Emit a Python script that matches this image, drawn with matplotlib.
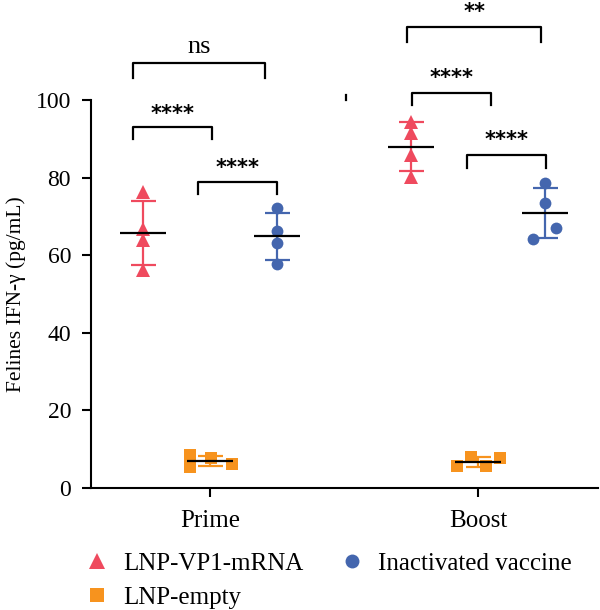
import numpy as np
import matplotlib.pyplot as plt
from matplotlib.lines import Line2D

# 数据 (pg/mL)
groups = ['Prime', 'Boost']
series = ['LNP-VP1-mRNA', 'LNP-empty', 'Inactivated vaccine']
prime_vp1 = [76.3, 66.7, 63.9, 56.2]
prime_empty = [8.5, 5.4, 7.7, 6.2]
prime_inact = [72.2, 66.3, 63.2, 57.7]
boost_vp1 = [94.3, 91.5, 85.8, 80.2]
boost_empty = [5.6, 7.9, 5.6, 7.7]
boost_inact = [78.6, 73.5, 67.0, 64.2]

# 显著性标记: (组, 序列1, 序列2, 标签)
sig_pairs = [
    ('Prime', 0, 2, 'ns'),
    ('Prime', 0, 1, '****'),
    ('Prime', 1, 2, '****'),
    ('Boost', 0, 2, '**'),
    ('Boost', 0, 1, '****'),
    ('Boost', 1, 2, '****'),
]

plt.rcParams['font.family'] = ['Liberation Serif', 'DejaVu Serif']

colors = ['#EF4A5E', '#F7931E', '#4466AE']
markers = ['^', 's', 'o']
msizes = [10, 9, 8.5]

fig = plt.figure(figsize=(6.0, 6.1), dpi=100)
ax = fig.add_axes([0.152, 0.2, 0.845, 0.636])

data = {
    'Prime': [prime_vp1, prime_empty, prime_inact],
    'Boost': [boost_vp1, boost_empty, boost_inact],
}
# 点的水平抖动
jitter = {
    'Prime': [[0, 0, 0, 0], [-0.075, -0.075, 0.004, 0.082], [0, 0, 0, 0]],
    'Boost': [[0, 0, 0, 0], [-0.078, -0.026, 0.03, 0.082], [0, 0, 0.04, -0.045]],
}
offsets = [-0.25, 0, 0.25]

for gi, g in enumerate(groups):
    for si in range(3):
        vals = np.array(data[g][si])
        x0 = gi + offsets[si]
        m, sd = vals.mean(), vals.std(ddof=1)
        ax.errorbar(x0, m, yerr=sd, fmt='none', ecolor=colors[si],
                    elinewidth=1.6, capsize=9, capthick=1.6, zorder=2)
        ax.plot(x0 + np.array(jitter[g][si]), vals, linestyle='none',
                marker=markers[si], ms=msizes[si], color=colors[si],
                markeredgewidth=0, zorder=3)
        ax.hlines(m, x0 - 0.085, x0 + 0.085, color='black', lw=1.6, zorder=4)

# 显著性括号
bracket = {
    ('Prime', 0, 2): (-0.287, 0.205, 109.5, 105.7, 113.7),
    ('Prime', 0, 1): (-0.287, 0.007, 93.0, 90.0, 98.2),
    ('Prime', 1, 2): (-0.045, 0.25, 78.9, 75.8, 84.3),
    ('Boost', 0, 2): (0.735, 1.235, 118.8, 115.0, 124.5),
    ('Boost', 0, 1): (0.754, 1.049, 101.8, 98.7, 107.5),
    ('Boost', 1, 2): (0.959, 1.254, 85.8, 82.5, 91.5),
}
for g, a, b, label in sig_pairs:
    x1, x2, ytop, ybot, ytxt = bracket[(g, a, b)]
    ax.plot([x1, x1, x2, x2], [ybot, ytop, ytop, ybot], color='black',
            lw=1.6, clip_on=False)
    if label == 'ns':
        ax.text((x1 + x2) / 2, ytxt, label, ha='center', va='center',
                fontsize=19, clip_on=False)
    else:
        ax.text((x1 + x2) / 2, ytxt - 1.8, label, ha='center', va='center',
                fontsize=15, family='DejaVu Sans', fontweight='bold',
                clip_on=False)

# 小刻线
ax.plot([0.507, 0.507], [100, 101.3], color='black', lw=1.6, clip_on=False)

ax.set_xlim(-0.444, 1.448)
ax.set_ylim(0, 100)
ax.set_yticks([0, 20, 40, 60, 80, 100])
ax.set_xticks([0, 1])
ax.set_xticklabels(groups, fontsize=18)
ax.tick_params(axis='y', labelsize=17, length=6.5, width=1.5, pad=8)
ax.tick_params(axis='x', length=6.5, width=1.5, pad=9)
ax.set_ylabel('Felines IFN-γ (pg/mL)', fontsize=15.5, labelpad=7)
for s in ['top', 'right']:
    ax.spines[s].set_visible(False)
for s in ['left', 'bottom']:
    ax.spines[s].set_linewidth(1.5)

handles = [Line2D([], [], linestyle='none', marker=markers[i], ms=msizes[i] + 1.5,
                  color=colors[i], markeredgewidth=0) for i in range(3)]
fig.legend(handles, series, ncol=2, loc='upper left',
           bbox_to_anchor=(0.145, 0.094), frameon=False, fontsize=18,
           handlelength=0.8, handletextpad=0.65, columnspacing=1.55,
           labelspacing=0.45, borderaxespad=0, borderpad=0)

plt.savefig('out.png', dpi=100)
